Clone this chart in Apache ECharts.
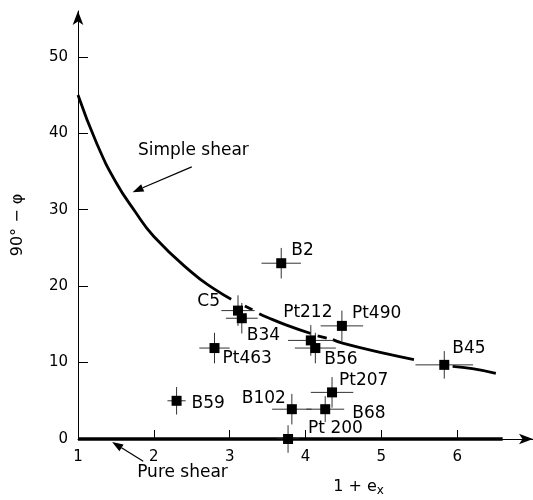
<!DOCTYPE html>
<html>
<head>
<meta charset="utf-8">
<script src="https://cdn.jsdelivr.net/npm/echarts@6/dist/echarts.min.js"></script>
<style>
  html, body { margin: 0; padding: 0; background: #fff; }
  #chart { width: 533px; height: 500px; }
</style>
</head>
<body>
<div id="chart"></div>
<script>
// tick labels
const xTicks = [1, 2, 3, 4, 5, 6];
const yTicks = [0, 10, 20, 30, 40, 50];

// samples: stretch (1 + ex), angle (90° - φ) and their error half-widths
const sampleNames = ['B2', 'C5', 'B34', 'Pt463', 'Pt212', 'Pt490', 'B56', 'B45', 'Pt207', 'B102', 'B68', 'Pt 200', 'B59'];
const stretchX = [3.68, 3.11, 3.16, 2.80, 4.07, 4.48, 4.13, 5.83, 4.35, 3.82, 4.26, 3.77, 2.30];
const angleY = [23.0, 16.8, 15.8, 11.9, 12.9, 14.8, 11.9, 9.7, 6.1, 3.9, 3.9, 0, 5.0];
const errX = [0.26, 0.22, 0.21, 0.20, 0.30, 0.28, 0.27, 0.38, 0.28, 0.26, 0.25, 0.15, 0.12];
const errY = [2.0, 2.0, 2.0, 2.0, 2.0, 2.0, 2.0, 1.8, 2.0, 2.0, 1.7, 1.8, 1.8];

// simple shear curve (null = break in the drawn line)
const curveX = [1, 1.25, 1.5, 1.75, 2, 2.5, 2.8, 3.02, null, 3.2, 3.3, null, 3.39, 3.5, 3.75, 4.07, null, 4.16, 4.28, null, 4.36, 4.5, 5, 5.43, null, 5.94, 6.2, 6.51];
const curveY = [45, 38.6, 33.6, 29.8, 26.5, 21.8, 19.6, 18.3, null, 17.4, 16.9, null, 16.4, 15.9, 14.9, 13.8, null, 13.5, 13.2, null, 13.0, 12.5, 11.3, 10.4, null, 9.5, 9.2, 8.6];

// pure shear line
const pureX = [1, 6.6];
const pureY = [0, 0];

// label placement relative to the marker centre: [dx, dy, align]
const labelPlace = {
    'B2': [10, -13, 'left'],
    'C5': [-18, -9, 'right'],
    'B34': [5, 17, 'left'],
    'Pt463': [8, 11, 'left'],
    'Pt212': [-3, -28, 'center'],
    'Pt490': [10, -12, 'left'],
    'B56': [9, 12, 'left'],
    'B45': [8, -16, 'left'],
    'Pt207': [7, -12, 'left'],
    'B102': [-6, -11, 'right'],
    'B68': [27, 4, 'left'],
    'Pt 200': [20, -10, 'left'],
    'B59': [15, 3, 'left']
};

const FONT = 'DejaVu Sans';
const SYM = 10;

const chart = echarts.init(document.getElementById('chart'));

const scatterData = sampleNames.map((name, i) => {
    const p = labelPlace[name];
    return {
        name: name,
        value: [stretchX[i], angleY[i]],
        label: {
            position: [SYM / 2 + p[0], SYM / 2 + p[1]],
            align: p[2],
            verticalAlign: 'middle'
        }
    };
});

const errData = sampleNames.map((name, i) => [stretchX[i], angleY[i], errX[i], errY[i]]);

const curveData = curveX.map((x, i) => (x === null ? [null, null] : [x, curveY[i]]));

chart.setOption({
    animation: false,
    grid: { left: 78, right: 0, top: 11, bottom: 61 },
    xAxis: {
        type: 'value',
        min: 1,
        max: 7,
        interval: 1,
        splitLine: { show: false },
        axisLine: {
            show: true,
            lineStyle: { color: '#000', width: 1 },
            symbol: ['none', 'arrow'],
            symbolSize: [8, 14]
        },
        axisTick: {
            show: true,
            inside: true,
            length: 9,
            customValues: xTicks,
            lineStyle: { color: '#000', width: 1 }
        },
        axisLabel: {
            customValues: xTicks,
            margin: 11,
            color: '#000',
            fontFamily: FONT,
            fontSize: 15
        },
        z: 5
    },
    yAxis: {
        type: 'value',
        min: 0,
        max: 56,
        splitLine: { show: false },
        name: '90° − φ',
        nameLocation: 'middle',
        nameGap: 52,
        nameTextStyle: { color: '#000', fontFamily: FONT, fontSize: 16 },
        axisLine: {
            show: true,
            lineStyle: { color: '#000', width: 1 },
            symbol: ['none', 'arrow'],
            symbolSize: [8, 14]
        },
        axisTick: {
            show: true,
            inside: true,
            length: 10,
            customValues: yTicks,
            lineStyle: { color: '#000', width: 1 }
        },
        axisLabel: {
            customValues: yTicks,
            margin: 10,
            color: '#000',
            fontFamily: FONT,
            fontSize: 15
        }
    },
    series: [
        {
            type: 'line',
            data: curveData,
            smooth: true,
            connectNulls: false,
            showSymbol: false,
            lineStyle: { color: '#000', width: 2.8 },
            z: 2
        },
        {
            type: 'line',
            data: pureX.map((x, i) => [x, pureY[i]]),
            showSymbol: false,
            clip: false,
            lineStyle: { color: '#000', width: 3.5 },
            z: 2
        },
        {
            type: 'custom',
            data: errData,
            clip: false,
            renderItem: function (params, api) {
                const x = api.value(0), y = api.value(1), ex = api.value(2), ey = api.value(3);
                const l = api.coord([x - ex, y]);
                const r = api.coord([x + ex, y]);
                const t = api.coord([x, y + ey]);
                const b = api.coord([x, y - ey]);
                const style = { stroke: '#333', lineWidth: 1 };
                return {
                    type: 'group',
                    children: [
                        { type: 'line', shape: { x1: l[0], y1: l[1], x2: r[0], y2: r[1] }, style: style },
                        { type: 'line', shape: { x1: t[0], y1: t[1], x2: b[0], y2: b[1] }, style: style }
                    ]
                };
            },
            z: 3
        },
        {
            type: 'scatter',
            data: scatterData,
            symbol: 'rect',
            symbolSize: SYM,
            clip: false,
            itemStyle: { color: '#000', opacity: 1 },
            label: {
                show: true,
                formatter: '{b}',
                color: '#000',
                fontFamily: FONT,
                fontSize: 17
            },
            z: 4
        }
    ]
});

// annotations placed in data space
function arrow(p0, p1) {
    const dx = p1[0] - p0[0], dy = p1[1] - p0[1];
    const len = Math.hypot(dx, dy), ux = dx / len, uy = dy / len;
    const hl = 11, hw = 4;
    const bx = p1[0] - ux * hl, by = p1[1] - uy * hl;
    return [
        { type: 'line', shape: { x1: p0[0], y1: p0[1], x2: bx, y2: by }, style: { stroke: '#000', lineWidth: 1.2 } },
        { type: 'polygon', shape: { points: [[p1[0], p1[1]], [bx - uy * hw, by + ux * hw], [bx + uy * hw, by - ux * hw]] }, style: { fill: '#000' } }
    ];
}

const px = (p) => chart.convertToPixel({ gridIndex: 0 }, p);

const simpleText = px([1.79, 37.7]);
const pureText = px([1.78, -4.45]);
const xName = px([4.7, -6.3]);

chart.setOption({
    graphic: [
        {
            type: 'text',
            x: simpleText[0], y: simpleText[1],
            style: { text: 'Simple shear', fill: '#000', font: '17px "DejaVu Sans"', verticalAlign: 'middle' }
        },
        ...arrow(px([2.5, 35.6]), px([1.72, 32.3])),
        {
            type: 'text',
            x: pureText[0], y: pureText[1],
            style: { text: 'Pure shear', fill: '#000', font: '17px "DejaVu Sans"', verticalAlign: 'middle' }
        },
        ...arrow(px([1.86, -2.9]), px([1.45, -0.4])),
        {
            type: 'text',
            x: xName[0], y: xName[1],
            style: {
                text: '{n|1 + e}{s|x}',
                align: 'center',
                verticalAlign: 'middle',
                rich: {
                    n: { fontFamily: FONT, fontSize: 16, fill: '#000' },
                    s: { fontFamily: FONT, fontSize: 12, fill: '#000', padding: [8, 0, 0, 0] }
                }
            }
        }
    ]
});
</script>
</body>
</html>
